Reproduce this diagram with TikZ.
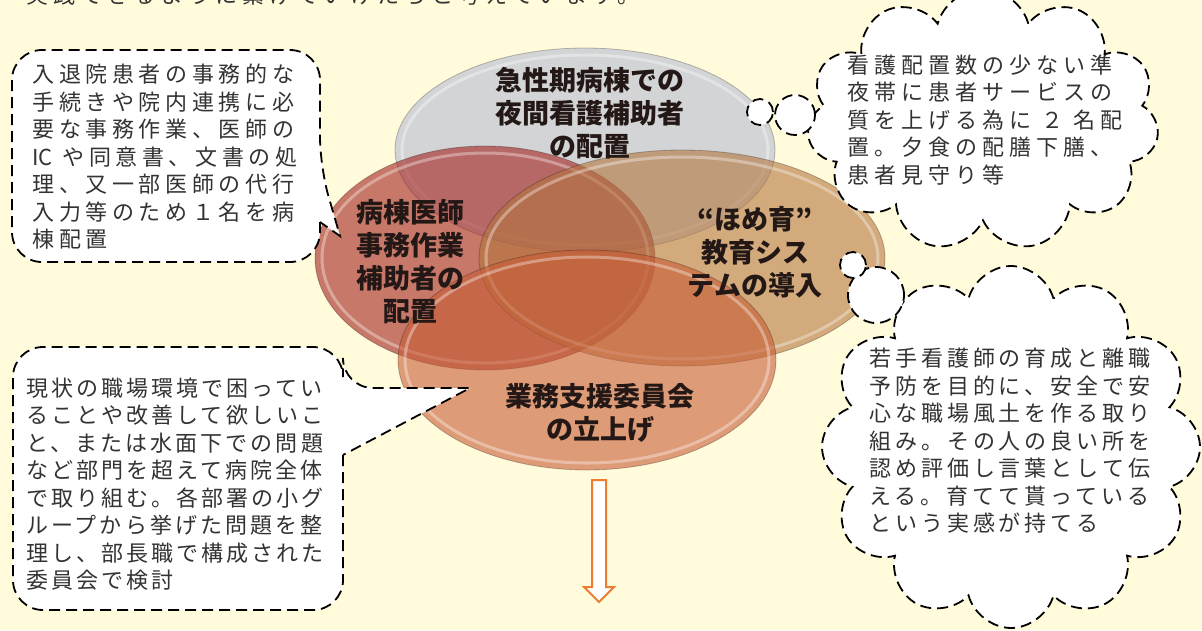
\documentclass[tikz,border=0pt]{standalone}
\usepackage{fontspec}
\usetikzlibrary{shapes.symbols,shapes.geometric}
\newfontfamily\jp{Noto Sans CJK JP}
\newcommand\cotext[1]{\fontsize{22pt}{27.5pt}\jp\addfontfeature{LetterSpace=#1}}
\definecolor{bgc}{HTML}{FFFBDB}
\definecolor{topc}{HTML}{B7BAD4}
\definecolor{leftc}{HTML}{A3211C}
\definecolor{rightc}{HTML}{B4753E}
\definecolor{botc}{HTML}{C85C35}
\definecolor{txtc}{HTML}{333333}
\definecolor{lblc}{HTML}{231815}
\definecolor{arrc}{HTML}{ED7D31}
\begin{document}
\begin{tikzpicture}[x=1pt,y=-1pt,
  dsh/.style={draw=black, line width=1.8pt, dash pattern=on 11pt off 6pt},
  bubble/.style={dsh, fill=white, circle, inner sep=0pt},
  cloudbox/.style={dsh, fill=white, cloud, cloud ignores aspect, inner sep=0pt},
  ctext/.style={text=txtc, align=left, inner sep=0pt},
  lbl/.style={text=lblc, align=center, inner sep=0pt, font={\fontsize{27pt}{33pt}\jp\bfseries}},
  venn/.style={fill opacity=0.6},
  rimout/.style={draw=black, draw opacity=0.25, line width=0.8pt},
  rimin/.style={draw=white, draw opacity=0.35, line width=3pt},
  blockarrow/.style={draw=arrc, line width=2pt, fill=white, line join=miter}]
\useasboundingbox (0,0) rectangle (1202,630);
\begin{scope}
\clip (0,0) rectangle (1202,630);
\fill[bgc] (0,0) rectangle (1202,630);

% clipped top line
\node[ctext, anchor=base west, font=\cotext{23}] (toptext) at (26,3) {実践できるように繋げていけたらと考えています。};

% Venn ellipses
\fill[topc, venn] (585,150) ellipse [x radius=190pt, y radius=102pt];
\draw[rimout] (585,150) ellipse [x radius=190pt, y radius=102pt];
\draw[rimin] (585,150) ellipse [x radius=183pt, y radius=95pt];

\fill[leftc, venn] (485,258) ellipse [x radius=170pt, y radius=112pt];
\draw[rimout] (485,258) ellipse [x radius=170pt, y radius=112pt];
\draw[rimin] (485,258) ellipse [x radius=163pt, y radius=105pt];

\fill[rightc, venn] (682,258) ellipse [x radius=203pt, y radius=108pt];
\draw[rimout] (682,258) ellipse [x radius=203pt, y radius=108pt];
\draw[rimin] (682,258) ellipse [x radius=196pt, y radius=101pt];

\fill[botc, venn] (587,360) ellipse [x radius=189pt, y radius=110pt];
\draw[rimout] (587,360) ellipse [x radius=189pt, y radius=110pt];
\draw[rimin] (587,360) ellipse [x radius=182pt, y radius=103pt];

% labels
\node[lbl] (ltop) at (590,113) {急性期病棟での\\夜間看護補助者\\の配置};
\node[lbl] (lleft) at (410,262) {病棟医師\\事務作業\\補助者の\\配置};
\node[lbl] (lright) at (755,252) {“ほめ育”\\教育シス\\テムの導入};
\node[lbl] (lbot) at (600,413) {業務支援委員会\\の立上げ};

% left top callout
\draw[dsh, fill=white] (320,222) [rounded corners=30pt] -- (320,262) -- (12,262) -- (12,50) -- (320,50) -- (320,167) [sharp corners] -- (340,236) -- cycle;
\node[ctext, font=\cotext{21}] (tl) at (165,157) {入退院患者の事務的な\\手続きや院内連携に必\\要な事務作業、医師の\\{\addfontfeature{LetterSpace=0}IC} や同意書、文書の処\\理、又一部医師の代行\\入力等のため１名を病\\棟配置};

% left bottom callout
\draw[dsh, fill=white] (343,455) [rounded corners=30pt] -- (343,610) -- (13,610) -- (13,347) -- (343,347) -- (343,388) [sharp corners] -- (470,388) -- cycle;
\node[ctext, font=\cotext{14}] (bl) at (175,484) {現状の職場環境で困ってい\\ることや改善して欲しいこ\\と、または水面下での問題\\など部門を超えて病院全体\\で取り組む。各部署の小グ\\ループから挙げた問題を整\\理し、部長職で構成された\\委員会で検討};

% right top cloud
\node[cloudbox, cloud puffs=11, minimum width=352pt, minimum height=262pt] (c1) at (983,120) {};
\node[bubble, minimum size=40pt] (b1b) at (795,115) {};
\node[bubble, minimum size=26pt] (b1a) at (760,112) {};
\node[ctext, font=\cotext{23}] (c1t) at (985,120) {看護配置数の少ない準\\夜帯に患者サービスの\\質を上げる為に ２ 名配\\置。夕食の配膳下膳、\\患者見守り等};

% right bottom cloud
\node[cloudbox, cloud puffs=12, minimum width=378pt, minimum height=362pt] (c2) at (1011,447) {};
\node[bubble, minimum size=56pt] (b2b) at (876,295) {};
\node[bubble, minimum size=26pt] (b2a) at (853,265) {};
\node[ctext, font=\cotext{18}] (c2t) at (1010,441) {若手看護師の育成と離職\\予防を目的に、安全で安\\心な職場風土を作る取り\\組み。その人の良い所を\\認め評価し言葉として伝\\える。育てて貰っている\\という実感が持てる};

% down arrow
\draw[blockarrow] (592,480) -- (606,480) -- (606,587) -- (614,587) -- (599,602) -- (584,587) -- (592,587) -- cycle;
\end{scope}
\end{tikzpicture}
\end{document}
